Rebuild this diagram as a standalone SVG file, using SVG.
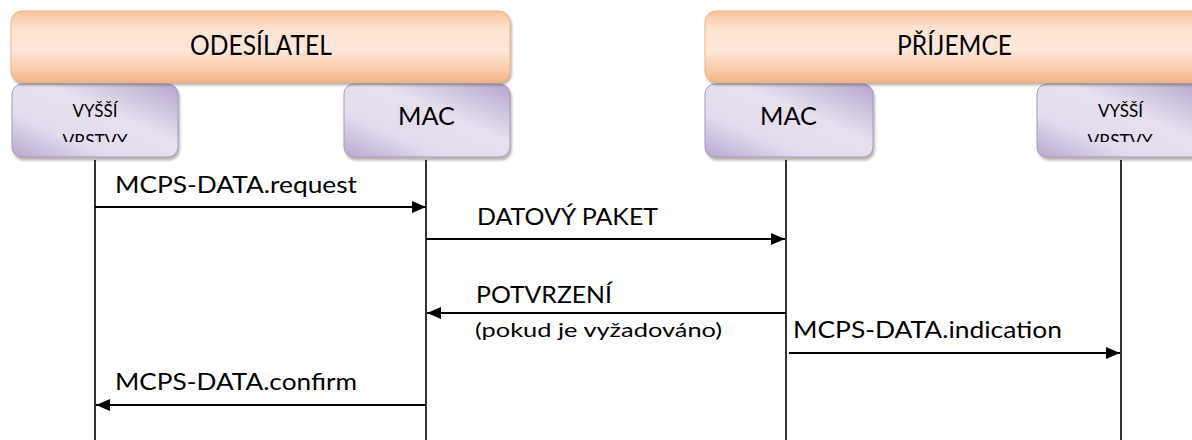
<svg xmlns="http://www.w3.org/2000/svg" width="1192" height="440" viewBox="0 0 1192 440">
<style>
.bar{fill:url(#og);stroke:#f0b183;stroke-width:1}
.box{fill:url(#pg);stroke:#a898c2;stroke-width:1}
.t{font-family:Lato,"Liberation Sans",sans-serif;fill:#000}
.life{stroke:#000;stroke-width:1.6;fill:none}
.msg{stroke:#000;stroke-width:2;fill:none}
</style>
<defs>
<linearGradient id="og" x1="0" y1="0" x2="0" y2="1">
<stop offset="0" stop-color="#f9c39b"/>
<stop offset="0.25" stop-color="#fde3d1"/>
<stop offset="0.55" stop-color="#fde8da"/>
<stop offset="0.85" stop-color="#f9c8a3"/>
<stop offset="1" stop-color="#f6b386"/>
</linearGradient>
<linearGradient id="pg" x1="0" y1="1" x2="1" y2="0">
<stop offset="0" stop-color="#b7a8cf"/>
<stop offset="0.3" stop-color="#e3dcee"/>
<stop offset="0.6" stop-color="#e6e0ef"/>
<stop offset="1" stop-color="#b5a6cd"/>
</linearGradient>
<filter id="sh" x="-5%" y="-10%" width="110%" height="130%">
<feDropShadow dx="1.5" dy="3" stdDeviation="1" flood-color="#6b5a4a" flood-opacity="0.45"/>
</filter>
<clipPath id="c1"><rect x="12" y="84" width="166" height="58"/></clipPath>
<clipPath id="c2"><rect x="1037" y="84" width="166" height="58"/></clipPath>
<marker id="ah" viewBox="0 0 14 12" refX="14" refY="6" markerWidth="14" markerHeight="12" markerUnits="userSpaceOnUse" orient="auto">
<path d="M0,0 L14,6 L0,12 Z" fill="#000"/>
</marker>
</defs>

<g id="box-vyssi-left">
<rect class="box" x="12" y="84" width="166" height="73" rx="10" filter="url(#sh)"/>
<g clip-path="url(#c1)">
<text class="t" x="95" y="117" font-size="17" text-anchor="middle" textLength="45" lengthAdjust="spacingAndGlyphs">VYŠŠÍ</text>
<text class="t" x="95" y="147" font-size="17" text-anchor="middle" textLength="65" lengthAdjust="spacingAndGlyphs">VRSTVY</text>
</g>
</g>
<g id="box-mac-left">
<rect class="box" x="344" y="84" width="166" height="73" rx="10" filter="url(#sh)"/>
<text class="t" x="426.5" y="125" font-size="25" text-anchor="middle" textLength="57" lengthAdjust="spacingAndGlyphs">MAC</text>
</g>
<g id="box-mac-right">
<rect class="box" x="705" y="84" width="168" height="73" rx="10" filter="url(#sh)"/>
<text class="t" x="788.5" y="125" font-size="25" text-anchor="middle" textLength="57" lengthAdjust="spacingAndGlyphs">MAC</text>
</g>
<g id="box-vyssi-right">
<rect class="box" x="1037" y="84" width="166" height="73" rx="10" filter="url(#sh)"/>
<g clip-path="url(#c2)">
<text class="t" x="1120.5" y="117" font-size="17" text-anchor="middle" textLength="45" lengthAdjust="spacingAndGlyphs">VYŠŠÍ</text>
<text class="t" x="1120" y="147" font-size="17" text-anchor="middle" textLength="65" lengthAdjust="spacingAndGlyphs">VRSTVY</text>
</g>
</g>
<g id="bar-odesilatel">
<rect class="bar" x="11" y="11" width="499" height="71" rx="11" filter="url(#sh)"/>
<text class="t" x="261" y="55" font-size="26" text-anchor="middle" textLength="142" lengthAdjust="spacingAndGlyphs">ODESÍLATEL</text>
</g>
<g id="bar-prijemce">
<rect class="bar" x="705" y="11" width="499" height="71" rx="11" filter="url(#sh)"/>
<text class="t" x="954.5" y="55" font-size="26" text-anchor="middle" textLength="115" lengthAdjust="spacingAndGlyphs">PŘÍJEMCE</text>
</g>

<g id="connectors">
<line class="life" x1="95" y1="160" x2="95" y2="440"/>
<line class="life" x1="426" y1="160" x2="426" y2="440"/>
<line class="life" x1="786" y1="160" x2="786" y2="440"/>
<line class="life" x1="1121" y1="160" x2="1121" y2="440"/>
<line class="msg" x1="95" y1="207" x2="426" y2="207" marker-end="url(#ah)"/>
<line class="msg" x1="426" y1="239" x2="785" y2="239" marker-end="url(#ah)"/>
<line class="msg" x1="786" y1="313" x2="427" y2="313" marker-end="url(#ah)"/>
<line class="msg" x1="789" y1="353" x2="1120" y2="353" marker-end="url(#ah)"/>
<line class="msg" x1="426" y1="405" x2="96" y2="405" marker-end="url(#ah)"/>
</g>

<g id="labels">
<text class="t" x="115" y="193" font-size="23" textLength="242" lengthAdjust="spacingAndGlyphs">MCPS-DATA.request</text>
<text class="t" x="477" y="225" font-size="23" textLength="181" lengthAdjust="spacingAndGlyphs">DATOVÝ PAKET</text>
<text class="t" x="476" y="303" font-size="23" textLength="136" lengthAdjust="spacingAndGlyphs">POTVRZENÍ</text>
<text class="t" x="475" y="337" font-size="19" textLength="247" lengthAdjust="spacingAndGlyphs">(pokud je vyžadováno)</text>
<text class="t" x="793" y="338" font-size="23" textLength="269" lengthAdjust="spacingAndGlyphs">MCPS-DATA.indication</text>
<text class="t" x="115" y="390" font-size="23" textLength="242" lengthAdjust="spacingAndGlyphs">MCPS-DATA.confirm</text>
</g>
</svg>
